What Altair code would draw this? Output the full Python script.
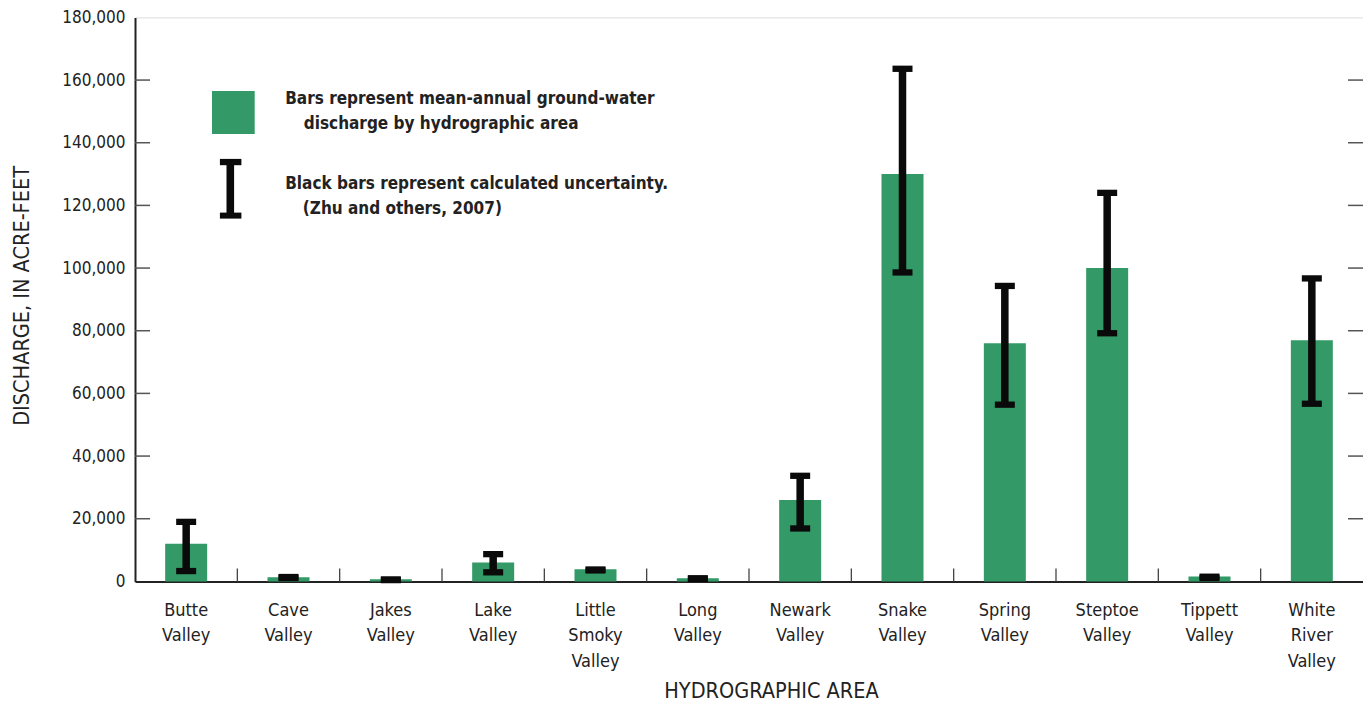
import altair as alt
import pandas as pd

categories = ["Butte Valley", "Cave Valley", "Jakes Valley", "Lake Valley",
              "Little Smoky Valley", "Long Valley", "Newark Valley", "Snake Valley",
              "Spring Valley", "Steptoe Valley", "Tippett Valley", "White River Valley"]
discharge = [12000, 1300, 700, 6000, 3900, 1000, 26000, 130000, 76000, 100000, 1600, 77000]
err_low = [3300, 1100, 400, 2900, 3500, 800, 16900, 98600, 56400, 79200, 1100, 56700]
err_high = [19000, 1400, 600, 8700, 3800, 1000, 33700, 163600, 94300, 124000, 1500, 96700]
y_ticks = [20000, 40000, 60000, 80000, 100000, 120000, 140000, 160000]
legend_lines = ["Bars represent mean-annual ground-water",
                "discharge by hydrographic area",
                "Black bars represent calculated uncertainty.",
                "(Zhu and others, 2007)"]

GREEN = "#339966"
BLACK = "#0a0a0a"
TXT = "#222222"
FONT = "DejaVu Sans Condensed, Liberation Sans Narrow, sans-serif"
W, H = 1228, 564
YTITLE = "DISCHARGE, IN ACRE-FEET"

df = pd.DataFrame({"cat": categories, "value": discharge, "lo": err_low, "hi": err_high})
df_b = pd.DataFrame({"cat": categories[1:]})
df_t = pd.DataFrame({"tick": y_ticks})

xs = alt.Scale(paddingInner=0, paddingOuter=0)
ys = alt.Scale(domain=[0, 180000], nice=False)

bars = alt.Chart(df).mark_bar(color=GREEN, width=42).encode(
    x=alt.X("cat:N", sort=categories, scale=xs,
            axis=alt.Axis(labelExpr="split(datum.label, ' ')", labelAngle=0,
                          labelFontSize=18, labelLineHeight=25.5, labelPadding=20,
                          labelColor=TXT, labelFont=FONT, ticks=False, tickSize=0,
                          domain=True, domainColor="#222", domainWidth=2,
                          title="HYDROGRAPHIC AREA", titleFont=FONT, titleFontSize=21.5,
                          titleFontWeight="normal", titleColor=TXT,
                          titleX=636, titleY=116, titleAlign="center",
                          titleBaseline="alphabetic")),
    y=alt.Y("value:Q", scale=ys,
            axis=alt.Axis(values=[0] + y_ticks + [180000], format=",d",
                          labelFontSize=17, labelFont=FONT, labelColor=TXT,
                          labelPadding=10, ticks=False, tickSize=0, grid=False,
                          domain=True, domainColor="#222", domainWidth=2,
                          title=YTITLE, titleFont=FONT,
                          titleFontSize=21.5, titleFontWeight="normal", titleColor=TXT,
                          titleAngle=270, titleX=-113, titleY=278,
                          titleAlign="center", titleBaseline="middle")),
)

xenc = alt.X("cat:N", sort=categories, scale=xs)

err_rule = alt.Chart(df).mark_rule(color=BLACK, strokeWidth=7.5).encode(
    x=xenc, y=alt.Y("lo:Q", scale=ys, title=YTITLE), y2="hi:Q")
cap_lo = alt.Chart(df).mark_tick(color=BLACK, thickness=6.3, size=20, opacity=1).encode(
    x=xenc, y=alt.Y("lo:Q", scale=ys, title=YTITLE))
cap_hi = alt.Chart(df).mark_tick(color=BLACK, thickness=6.3, size=20, opacity=1).encode(
    x=xenc, y=alt.Y("hi:Q", scale=ys, title=YTITLE))

xticks = alt.Chart(df_b).mark_rule(color="#444", strokeWidth=1.3).encode(
    x=alt.X("cat:N", sort=categories, scale=xs, bandPosition=0),
    y=alt.value(H), y2=alt.value(H - 13))

yt_left = alt.Chart(df_t).mark_rule(color="#555", strokeWidth=1.5).encode(
    y=alt.Y("tick:Q", scale=ys, title=YTITLE), x=alt.value(0), x2=alt.value(15))
yt_right = alt.Chart(df_t).mark_rule(color="#555", strokeWidth=1.5).encode(
    y=alt.Y("tick:Q", scale=ys, title=YTITLE), x=alt.value(W - 15), x2=alt.value(W))

# custom legend
leg_sq = alt.Chart(df.head(1)).mark_rect(color=GREEN).encode(
    x=alt.value(77), x2=alt.value(119.7), y=alt.value(73.6), y2=alt.value(116.6))
leg_bar = alt.Chart(df.head(1)).mark_rule(color=BLACK, strokeWidth=7.6).encode(
    x=alt.value(95.3), y=alt.value(144.6), y2=alt.value(198.2))
leg_cap1 = alt.Chart(df.head(1)).mark_rect(color=BLACK).encode(
    x=alt.value(84.9), x2=alt.value(106.4), y=alt.value(141.5), y2=alt.value(147.8))
leg_cap2 = alt.Chart(df.head(1)).mark_rect(color=BLACK).encode(
    x=alt.value(84.9), x2=alt.value(106.4), y=alt.value(195.2), y2=alt.value(201.2))

def leg_text(txt, x, y):
    return alt.Chart(df.head(1)).mark_text(
        text=txt, align="left", baseline="alphabetic", font=FONT, fontSize=17,
        fontWeight="bold", color=TXT).encode(x=alt.value(x), y=alt.value(y))

t1 = leg_text(legend_lines[0], 150.2, 86.8)
t2 = leg_text(legend_lines[1], 168.8, 111.6)
t3 = leg_text(legend_lines[2], 150.2, 172.0)
t4 = leg_text(legend_lines[3], 167.8, 196.2)

chart = alt.layer(
    bars, err_rule, cap_lo, cap_hi, xticks, yt_left, yt_right,
    leg_sq, leg_bar, leg_cap1, leg_cap2, t1, t2, t3, t4
).properties(
    width=W, height=H,
    padding={"left": 127, "top": 9.4, "right": 0, "bottom": 122.6},
    autosize=alt.AutoSizeParams(type="none"),
).configure_view(stroke="#555", strokeWidth=1.5).configure(background="white")

chart.save("out.html", embed_options={"renderer": "svg", "actions": False})
